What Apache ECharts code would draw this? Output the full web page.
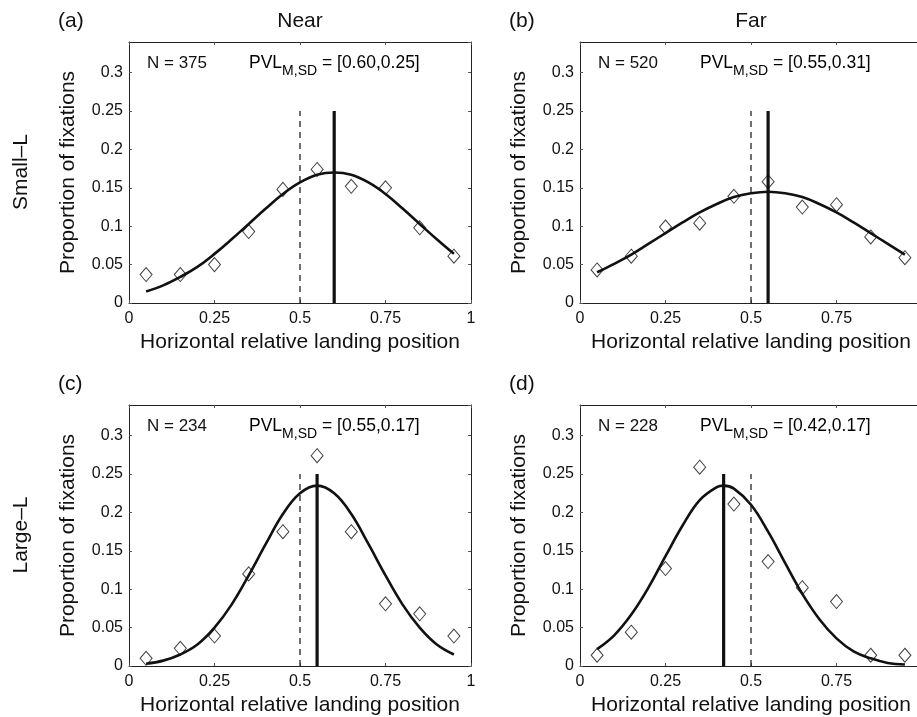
<!DOCTYPE html>
<html>
<head>
<meta charset="utf-8">
<script src="https://cdn.jsdelivr.net/npm/echarts@6/dist/echarts.min.js"></script>
<style>
  html, body { margin: 0; padding: 0; background: #fff; }
  #main { width: 917px; height: 717px; }
</style>
</head>
<body>
<div id="main"></div>
<script>
// bin centres of the histogram (diamonds)
const binCenters = [0.05, 0.15, 0.25, 0.35, 0.45, 0.55, 0.65, 0.75, 0.85, 0.95];
const propA = [0.037, 0.037, 0.050, 0.093, 0.148, 0.174, 0.152, 0.150, 0.098, 0.061];
const propB = [0.043, 0.061, 0.099, 0.104, 0.139, 0.158, 0.125, 0.128, 0.086, 0.059];
const propC = [0.010, 0.023, 0.039, 0.120, 0.175, 0.274, 0.175, 0.081, 0.068, 0.039];
const propD = [0.014, 0.044, 0.127, 0.259, 0.211, 0.136, 0.102, 0.084, 0.014, 0.014];

// fitted curves, read along x
const fitX = [0.05, 0.10, 0.15, 0.20, 0.25, 0.30, 0.35, 0.40, 0.45, 0.50,
              0.55, 0.60, 0.65, 0.70, 0.75, 0.80, 0.85, 0.90, 0.95];
const fitA = [0.015, 0.023, 0.034, 0.047, 0.064, 0.083, 0.103, 0.123, 0.142, 0.157,
              0.167, 0.170, 0.167, 0.157, 0.142, 0.123, 0.103, 0.083, 0.064];
const fitB = [0.040, 0.051, 0.063, 0.077, 0.091, 0.105, 0.118, 0.129, 0.138, 0.143,
              0.145, 0.143, 0.138, 0.129, 0.118, 0.105, 0.091, 0.077, 0.063];
const fitC = [0.003, 0.007, 0.015, 0.028, 0.050, 0.080, 0.118, 0.159, 0.198, 0.225,
              0.235, 0.225, 0.198, 0.159, 0.118, 0.080, 0.050, 0.028, 0.015];
// panel (d) peaks between samples, so its x list carries the peak too
const fitXD = [0.05, 0.10, 0.15, 0.20, 0.25, 0.30, 0.35, 0.40, 0.42, 0.45, 0.50,
               0.55, 0.60, 0.65, 0.70, 0.75, 0.80, 0.85, 0.90, 0.95];
const fitD = [0.022, 0.040, 0.067, 0.102, 0.143, 0.183, 0.216, 0.233, 0.235, 0.231, 0.210,
              0.175, 0.134, 0.094, 0.061, 0.036, 0.019, 0.010, 0.004, 0.002];

const counts = [375, 520, 234, 228];
const pvlM = [0.60, 0.55, 0.55, 0.42];
const pvlSD = [0.25, 0.31, 0.17, 0.17];
const panelTags = ['(a)', '(b)', '(c)', '(d)'];
const colTitles = ['Near', 'Far'];
const rowTitles = ['Small\u2013L', 'Large\u2013L'];
const centreLine = 0.5;
const refLineTop = 0.25;

const props = [propA, propB, propC, propD];
const fitXs = [fitX, fitX, fitX, fitXD];
const fits = [fitA, fitB, fitC, fitD];

const FONT = '"Liberation Sans", Arial, Helvetica, sans-serif';
// the right-hand panels run a few pixels past the window edge, as in the figure
const grids = [
  { left: 129, top: 42, width: 342, height: 261, outerBoundsMode: 'none' },
  { left: 580, top: 42, width: 342, height: 261, outerBoundsMode: 'none' },
  { left: 129, top: 405, width: 342, height: 261, outerBoundsMode: 'none' },
  { left: 580, top: 405, width: 342, height: 261, outerBoundsMode: 'none' }
];

const xAxes = [], yAxes = [], series = [], graphics = [];

grids.forEach((g, i) => {
  const tick = { show: true, inside: true, length: 3, lineStyle: { color: '#555', width: 1 } };
  const line = { show: true, onZero: false, lineStyle: { color: '#222', width: 1 } };
  xAxes.push({
    gridIndex: i, type: 'value', min: 0, max: 1, interval: 0.25, position: 'bottom',
    axisLine: line, axisTick: tick, splitLine: { show: false },
    axisLabel: { color: '#111', fontSize: 16, fontFamily: FONT, margin: 8 },
    name: 'Horizontal relative landing position', nameLocation: 'middle', nameGap: 29,
    nameTextStyle: { color: '#111', fontSize: 21, fontFamily: FONT }
  });
  xAxes.push({
    gridIndex: i, type: 'value', min: 0, max: 1, interval: 0.25, position: 'top',
    axisLine: line, axisTick: tick, splitLine: { show: false }, axisLabel: { show: false }
  });
  yAxes.push({
    gridIndex: i, type: 'value', min: 0, max: 0.34, interval: 0.05, position: 'left',
    axisLine: line, axisTick: tick, splitLine: { show: false },
    axisLabel: { color: '#111', fontSize: 16, fontFamily: FONT, margin: 6, showMaxLabel: false },
    name: 'Proportion of fixations', nameLocation: 'middle', nameGap: 50,
    nameTextStyle: { color: '#111', fontSize: 21, fontFamily: FONT }
  });
  yAxes.push({
    gridIndex: i, type: 'value', min: 0, max: 0.34, interval: 0.05, position: 'right',
    axisLine: line, axisTick: tick, splitLine: { show: false }, axisLabel: { show: false }
  });

  const xi = i * 2, yi = i * 2;
  series.push({
    type: 'line', xAxisIndex: xi, yAxisIndex: yi, silent: true, symbol: 'none',
    data: [[centreLine, 0], [centreLine, refLineTop]],
    lineStyle: { color: '#222', width: 1.3, type: [6, 5] }
  });
  series.push({
    type: 'line', xAxisIndex: xi, yAxisIndex: yi, silent: true, symbol: 'none',
    data: [[pvlM[i], 0], [pvlM[i], refLineTop]],
    lineStyle: { color: '#111', width: 3.2 }
  });
  series.push({
    type: 'scatter', xAxisIndex: xi, yAxisIndex: yi, silent: true,
    symbol: 'diamond', symbolSize: [12, 14],
    data: binCenters.map((x, k) => [x, props[i][k]]),
    itemStyle: { color: 'rgba(0,0,0,0)', borderColor: '#111', borderWidth: 1 }
  });
  series.push({
    type: 'line', xAxisIndex: xi, yAxisIndex: yi, silent: true, symbol: 'none', smooth: 0.4,
    data: fitXs[i].map((x, k) => [x, fits[i][k]]),
    lineStyle: { color: '#111', width: 2.6 }
  });

  // annotations inside the panel
  graphics.push({
    type: 'text', x: g.left + 18, y: g.top + 21,
    style: { text: 'N = ' + counts[i], font: '17px ' + FONT, fill: '#111',
             align: 'left', verticalAlign: 'middle', textAlign: 'left', textVerticalAlign: 'middle' }
  });
  graphics.push({
    type: 'text', x: g.left + 120, y: g.top + 21,
    style: {
      text: '{m|PVL}{s|M,SD}{m| = [' + pvlM[i].toFixed(2) + ',' + pvlSD[i].toFixed(2) + ']}',
      align: 'left', verticalAlign: 'middle', textAlign: 'left', textVerticalAlign: 'middle',
      rich: {
        m: { fontSize: 17.5, fontFamily: FONT, color: '#111', lineHeight: 30, verticalAlign: 'middle' },
        s: { fontSize: 14, fontFamily: FONT, color: '#111', lineHeight: 30, verticalAlign: 'bottom' }
      }
    }
  });
  // panel tag
  graphics.push({
    type: 'text', x: g.left - 71, y: g.top - 21,
    style: { text: panelTags[i], font: '21px ' + FONT, fill: '#111',
             align: 'left', verticalAlign: 'middle', textAlign: 'left', textVerticalAlign: 'middle' }
  });
});

colTitles.forEach((t, c) => {
  const g = grids[c];
  graphics.push({
    type: 'text', x: g.left + 171, y: 21,
    style: { text: t, font: '21px ' + FONT, fill: '#111',
             align: 'center', verticalAlign: 'middle', textAlign: 'center', textVerticalAlign: 'middle' }
  });
});
rowTitles.forEach((t, r) => {
  graphics.push({
    type: 'text', x: 21, y: r === 0 ? 172 : 535, rotation: Math.PI / 2,
    style: { text: t, font: '21px ' + FONT, fill: '#111',
             align: 'center', verticalAlign: 'middle', textAlign: 'center', textVerticalAlign: 'middle' }
  });
});

const chart = echarts.init(document.getElementById('main'));
chart.setOption({
  animation: false,
  backgroundColor: '#fff',
  grid: grids,
  xAxis: xAxes,
  yAxis: yAxes,
  series: series,
  graphic: graphics
});
</script>
</body>
</html>
